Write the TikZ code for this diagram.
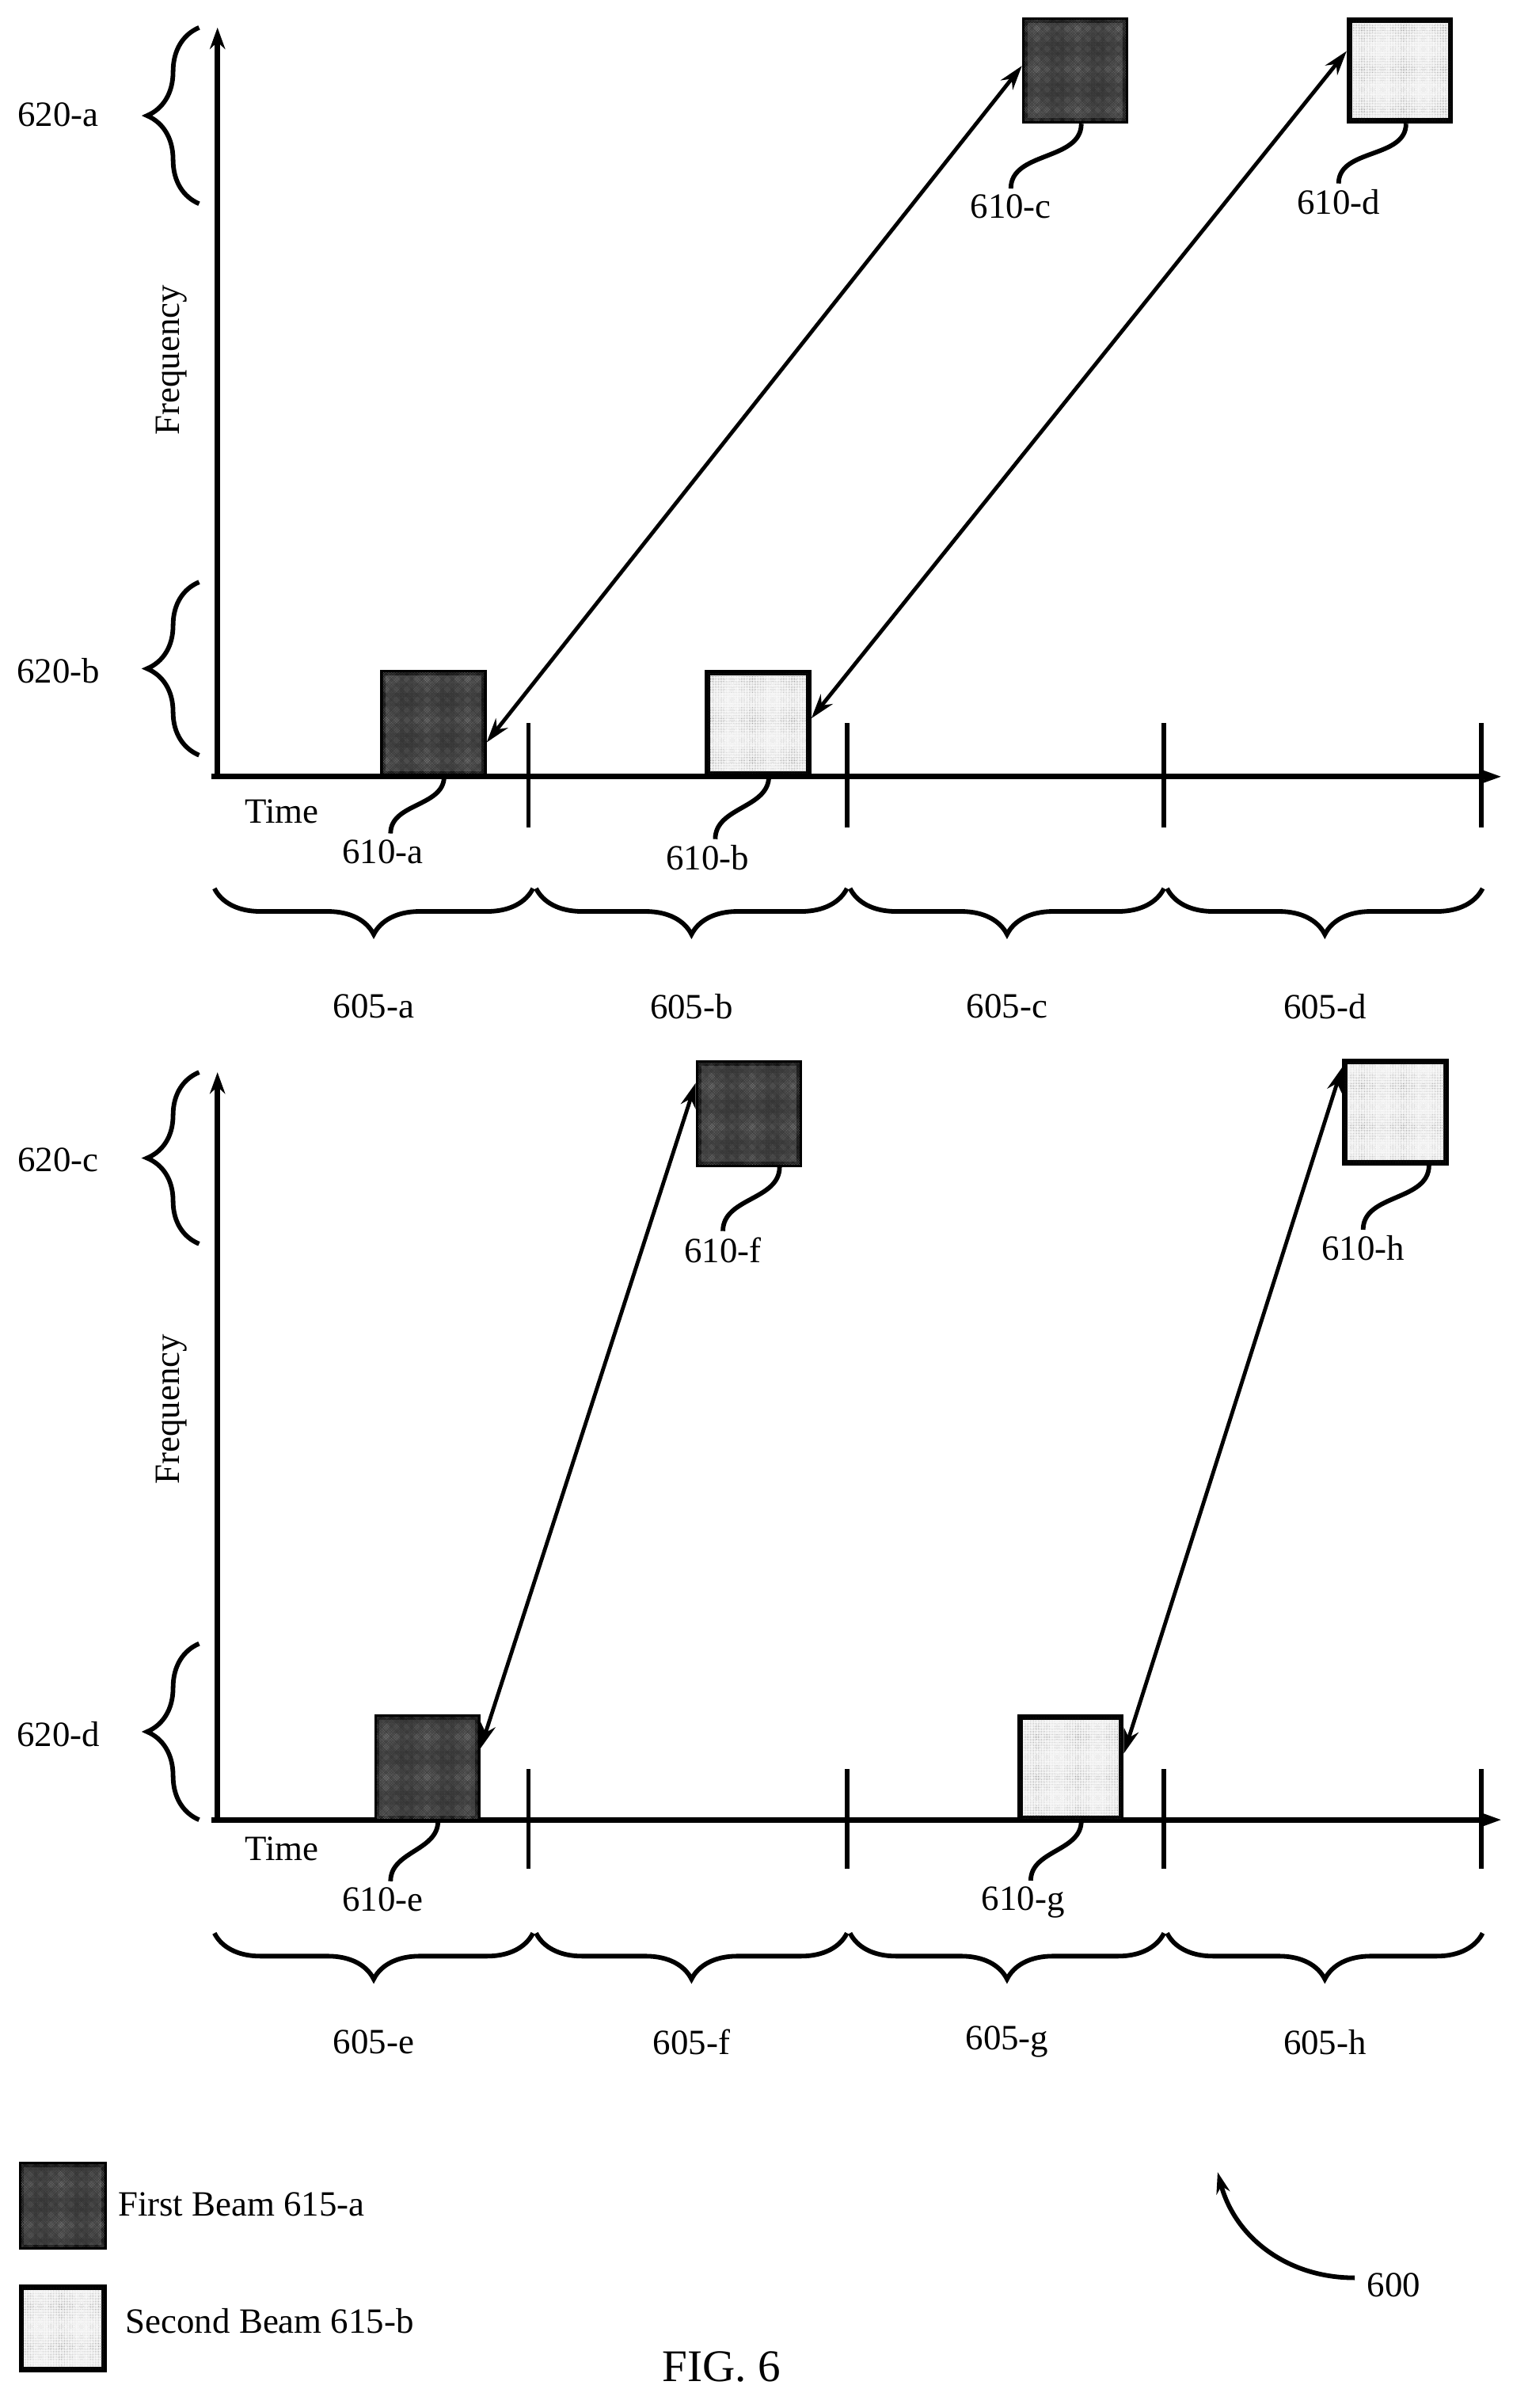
\documentclass[tikz,border=0pt]{standalone}
\usepackage{fontspec}
\setmainfont{Liberation Serif}
\usetikzlibrary{patterns,decorations.pathreplacing,arrows.meta,calc}
\tikzset{
  axis/.style={line width=3.5mm, -{Stealth[length=14mm,width=10mm]}},
  tick/.style={line width=3mm},
  beamA/.style={draw, line width=3.5mm, minimum size=66mm, inner sep=0pt, fill=black!85, postaction={pattern=crosshatch dots, pattern color=white!80!black}},
  beamB/.style={draw, line width=3.5mm, minimum size=66mm, inner sep=0pt, fill=white, postaction={pattern=dots, pattern color=black!80}},
  link/.style={line width=2.5mm, {Stealth[length=16mm,width=10mm]}-{Stealth[length=16mm,width=10mm]}},
  lead/.style={line width=3mm},
  brc/.style={line width=3mm, decorate, decoration={brace, amplitude=#1}},
  brc/.default=34mm,
  lbl/.style={font=\fontsize{66}{72}\selectfont, inner sep=0pt},
}
\begin{document}
\begin{tikzpicture}[x=1mm, y=-1mm]
\useasboundingbox (0,0) rectangle (1000,1572);

% top panel
\draw[axis] (142,507) -- (142,18);
\draw[axis] (138,507) -- (980,507);
\foreach \x in {345,553,760,967} \draw[tick] (\x,472) -- (\x,540);
\node[lbl, rotate=90] (fq1) at (112,235) {Frequency};
\node[lbl] (tm1) at (184,530) {Time};
\draw[brc] (130,133) -- (130,18);
\draw[brc] (130,493) -- (130,380);
\node[lbl] (fa) at (38,75) {620-a};
\node[lbl] (fb) at (38,438) {620-b};
\foreach \a/\b/\c in {140/348/a,350/553/b,555/760/c,762/968/d} {
  \draw[brc=30mm] (\b,580) -- (\a,580);
  \node[lbl] (t\c) at ({(\a+\b)/2},657) {605-\c};
}
\node[beamA] (ba) at (283,472) {};
\node[beamB] (bb) at (495,472) {};
\node[beamA] (bc) at (702,46) {};
\node[beamB] (bd) at (914,46) {};
\draw[link] (ba.-20) -- (bc.175);
\draw[link] (bb.5) -- (bd.160);
\node[lbl] (la) at (250,556) {610-a};
\node[lbl] (lb) at (462,560) {610-b};
\node[lbl] (lc) at (660,135) {610-c};
\node[lbl] (ld) at (874,132) {610-d};
\draw[lead] ($(ba.south)+(7,0)$) to[out=-90,in=90] ($(la.north)+(5,-4)$);
\draw[lead] ($(bb.south)+(7,0)$) to[out=-90,in=90] ($(lb.north)+(5,-4)$);
\draw[lead] ($(bc.south)+(4,0)$) to[out=-90,in=90] ($(lc.north)+(0,-4)$);
\draw[lead] ($(bd.south)+(4,0)$) to[out=-90,in=90] ($(ld.north)+(0,-4)$);

% bottom panel
\draw[axis] (142,1188) -- (142,700);
\draw[axis] (138,1188) -- (980,1188);
\foreach \x in {345,553,760,967} \draw[tick] (\x,1155) -- (\x,1220);
\node[lbl, rotate=90] (fq2) at (112,920) {Frequency};
\node[lbl] (tm2) at (184,1207) {Time};
\draw[brc] (130,812) -- (130,700);
\draw[brc] (130,1188) -- (130,1073);
\node[lbl] (fc) at (38,757) {620-c};
\node[lbl] (fd) at (38,1132) {620-d};
\foreach \a/\b/\c in {140/348/e,350/553/f,555/760/g,762/968/h} {
  \draw[brc=30mm] (\b,1262) -- (\a,1262);
  \node[lbl] (t\c) at ({(\a+\b)/2},1333) {605-\c};
}
\node[beamA] (be) at (279,1154) {};
\node[beamA] (bf) at (489,727) {};
\node[beamB] (bg) at (699,1154) {};
\node[beamB] (bh) at (911,726) {};
\draw[link] (be.20) -- (bf.150);
\draw[link] (bg.15) -- (bh.140);
\node[lbl] (le) at (250,1240) {610-e};
\node[lbl] (lf) at (472,816) {610-f};
\node[lbl] (lg) at (668,1242) {610-g};
\node[lbl] (lh) at (890,815) {610-h};
\draw[lead] ($(be.south)+(7,0)$) to[out=-90,in=90] ($(le.north)+(5,-4)$);
\draw[lead] ($(bf.south)+(20,0)$) to[out=-90,in=90] ($(lf.north)+(0,-4)$);
\draw[lead] ($(bg.south)+(7,0)$) to[out=-90,in=90] ($(lg.north)+(5,-4)$);
\draw[lead] ($(bh.south)+(22,0)$) to[out=-90,in=90] ($(lh.north)+(0,-4)$);

% legend
\node[beamA, minimum size=54mm] (ka) at (41,1440) {};
\node[beamB, minimum size=54mm] (kb) at (41,1520) {};
\node[lbl, anchor=west] (ta) at (77,1439) {First Beam 615-a};
\node[lbl, anchor=west] (tb) at (82,1515) {Second Beam 615-b};
\node[lbl] (ref) at (910,1492) {600};
\draw[line width=3mm, -{Stealth[length=14mm,width=9mm]}] ($(ref.west)+(-8,-5)$) to[out=180,in=-75] (795,1418);
\node[lbl, font=\fontsize{84}{90}\selectfont] (fig) at (471,1545) {FIG. 6};
\end{tikzpicture}
\end{document}
